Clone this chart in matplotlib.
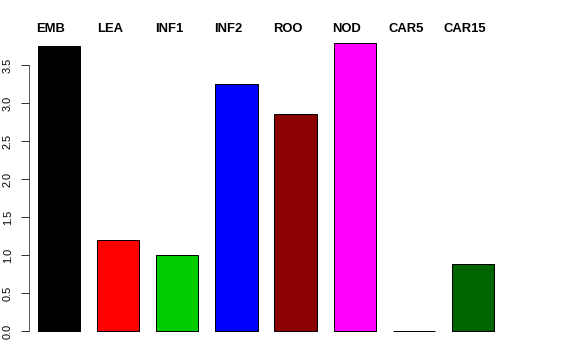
import numpy as np
import matplotlib
matplotlib.use("Agg")
from matplotlib import pyplot as plt
from matplotlib import transforms

plt.rcParams['font.family'] = ['Liberation Sans', 'DejaVu Sans']

# Data
labels = ["EMB", "LEA", "INF1", "INF2", "ROO", "NOD", "CAR5", "CAR15"]
values = [3.75, 1.20, 1.00, 3.26, 2.86, 3.80, 0.0, 0.88]
colours = ["#000000", "#FF0000", "#00CD00", "#0000FF", "#8B0000", "#FF00FF", "#808080", "#006400"]
yticks = [0.0, 0.5, 1.0, 1.5, 2.0, 2.5, 3.0, 3.5]

# R style barplot geometry: width 1, space 0.4
width = 1.0
space = 0.4
lefts = np.arange(len(values)) * (width + space) + space
centres = lefts + width / 2

fig = plt.figure(figsize=(8, 5), dpi=72)
ax = fig.add_axes([0.0503, 0.0486, 0.8229, 0.8653])

ax.bar(centres, values, width=width, color=colours, edgecolor="black", linewidth=1)

# Axis limits, bit of padding like R does
pad_x = 0.213
ax.set_xlim(lefts[0] - pad_x, lefts[-1] + width + pad_x)
ax.set_ylim(-0.04 * max(values), max(values) * 1.04)

# Only the left axis, limited to the tick range
for side in ("top", "right", "bottom"):
    ax.spines[side].set_visible(False)
ax.spines["left"].set_bounds(yticks[0], yticks[-1])
ax.spines["left"].set_color("#333333")
ax.set_xticks([])
ax.set_yticks(yticks)
ax.set_yticklabels([f"{t:.1f}" for t in yticks], rotation=90, va="center", fontsize=11)
ax.tick_params(axis="y", length=8, width=1, pad=8, colors="#333333", labelcolor="black")

# Bold names above the bars
trans = transforms.blended_transform_factory(ax.transData, ax.transAxes)
for x, name in zip(centres, labels):
    ax.text(x - 0.19, 1.0065, name, transform=trans, ha="center", va="center",
            fontsize=13, fontweight="bold")

fig.savefig("out.png", dpi=72)
